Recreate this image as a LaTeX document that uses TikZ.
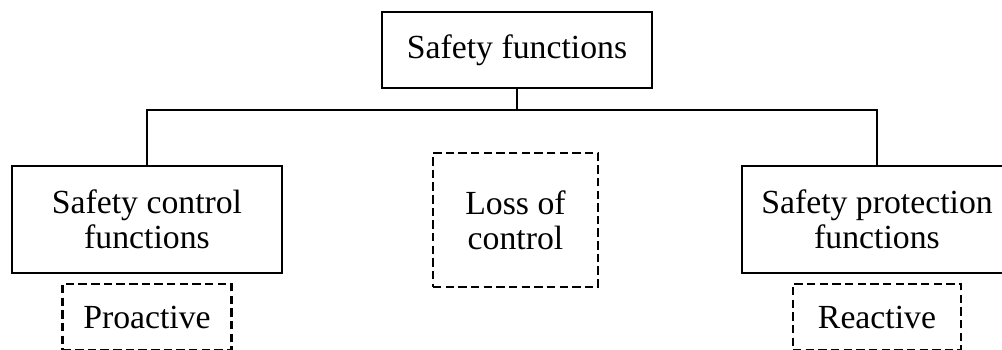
\documentclass[tikz,border=0pt]{standalone}
\usepackage{fontspec}
\setmainfont{Liberation Serif}
\usepackage{tikz}
\usetikzlibrary{positioning}

\begin{document}
\begin{tikzpicture}[node distance = 0.225cm,
						every node/.style={font=\fontsize{24}{25}\selectfont, align=center, inner sep=0pt},
						block/.style={draw, line width=1.1pt, minimum width=6.75cm},
						dashblock/.style={draw, line width=1.9pt, dash pattern=on 6pt off 3pt}]
		\useasboundingbox (0,0) rectangle (25.05,-8.75);
		\node [block, minimum height=1.9cm] at (12.925,-1.25) (safety) {Safety functions};
		\node [block, minimum height=2.675cm] at (3.675,-5.4875)
			(control) {Safety control\\functions};
		\node [block, minimum height=2.675cm] at (21.925,-5.4875)
			(protection) {Safety protection\\functions};
		\node [dashblock, minimum width=4.125cm, minimum height=3.35cm]
			at (12.8875,-5.5) (loss) {Loss of\\control};
		\node [dashblock, minimum width=4.225cm, minimum height=1.65cm,
				below=of control] (proactive) {Proactive};
		\node [dashblock, minimum width=4.2cm, minimum height=1.65cm,
				below=of protection] (reactive) {Reactive};

		\coordinate (bus) at (0,-2.75);
		\draw [line width=1.1pt] (safety.south) -- (safety.south |- bus);
		\draw [line width=1.1pt] (control.north) -- (control.north |- bus)
			-| (protection.north);
	\end{tikzpicture}
\end{document}
